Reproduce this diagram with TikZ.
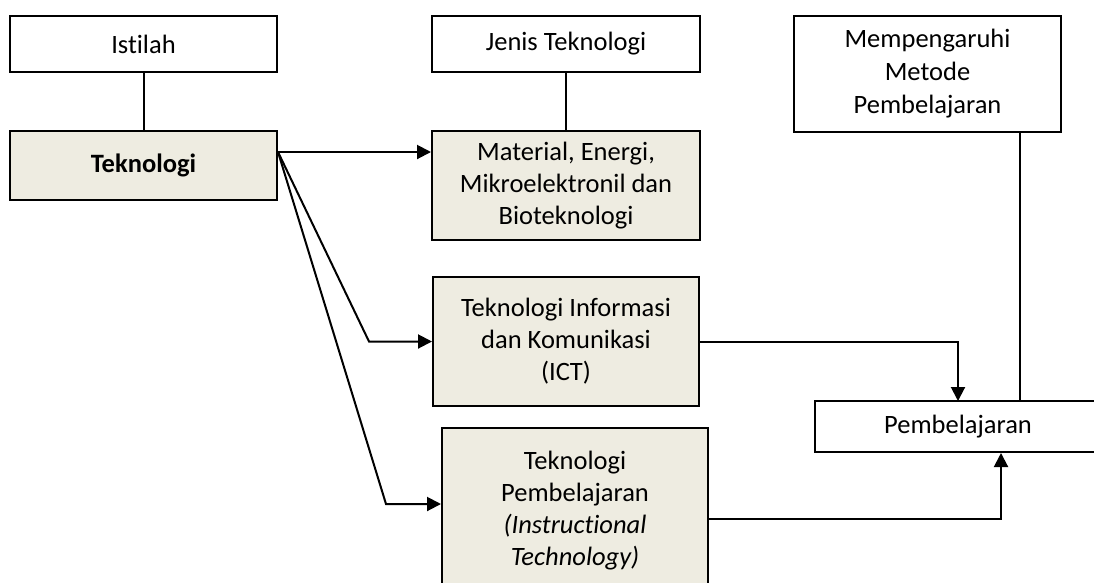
\documentclass[tikz,border=0pt]{standalone}
\usepackage{fontspec}
\setmainfont{Carlito}[Ligatures={NoCommon}]
\usetikzlibrary{arrows.meta,calc}
\definecolor{tan}{HTML}{EEECE1}
\tikzset{
  box/.style={draw=black, line width=2pt, rectangle, align=center, inner sep=0pt,
    font=\fontsize{26.5}{32}\selectfont},
  tanbox/.style={box, fill=tan},
  plainbox/.style={box, fill=white},
  conn/.style={draw=black, line width=2pt},
  arr/.style={conn, -{Triangle[length=14pt,width=14pt]}}
}
\begin{document}
\begin{tikzpicture}[x=1pt,y=-1pt]
\clip (0,0) rectangle (1094,582);
\fill[white] (0,0) rectangle (1094,582);

\node[plainbox, minimum width=267pt, minimum height=56pt] (istilah) at (143.5,44) {Istilah};
\node[tanbox, minimum width=267pt, minimum height=69pt] (tek) at (143.5,165.5) {\bfseries Teknologi};
\node[plainbox, minimum width=268pt, minimum height=56pt] (jenis) at (566,44) {Jenis Teknologi};
\node[tanbox, minimum width=268pt, minimum height=109pt] (mat) at (566,185.5) {Material, Energi,\\Mikroelektronil dan\\Bioteknologi};
\node[tanbox, minimum width=266pt, minimum height=129pt] (ict) at (566,341.5) {Teknologi Informasi\\dan Komunikasi\\(ICT)};
\node[tanbox, minimum width=266pt, minimum height=166pt] (tp) at (575,511) {Teknologi\\Pembelajaran\\\itshape(Instructional\\\itshape Technology)};
\node[plainbox, minimum width=267pt, minimum height=116pt, font=\fontsize{26.5}{33}\selectfont] (memp) at (927.5,74) {Mempengaruhi\\Metode\\Pembelajaran};
\node[plainbox, minimum width=286pt, minimum height=51pt] (pemb) at (958,426.5) {Pembelajaran};

% vertical links
\draw[conn] (istilah.south) -- (tek.north);
\draw[conn] (jenis.south) -- (mat.north);

% fan out from Teknologi
\coordinate (src) at ([yshift=13.5pt]tek.east);
\coordinate (b1) at (369,341.5);
\coordinate (b2) at (386,504);
\draw[arr] (src) -- (src -| mat.west);
\draw[arr] (src) -- (b1) -- (ict.west);
\draw[arr] (src) -- (b2) -- (b2 -| tp.west);

% to Pembelajaran
\coordinate (ictin) at (992,401);
\draw[arr] (ict.east) -| (ictin -| pemb.north);
\coordinate (tpout) at ([yshift=-8pt]tp.east);
\coordinate (tpin) at (1001,452);
\draw[arr] (tpout) -| (tpin |- pemb.south);
\coordinate (mempout) at (1020,132);
\draw[conn] (mempout |- memp.south) -- (mempout |- pemb.north);
\end{tikzpicture}
\end{document}
